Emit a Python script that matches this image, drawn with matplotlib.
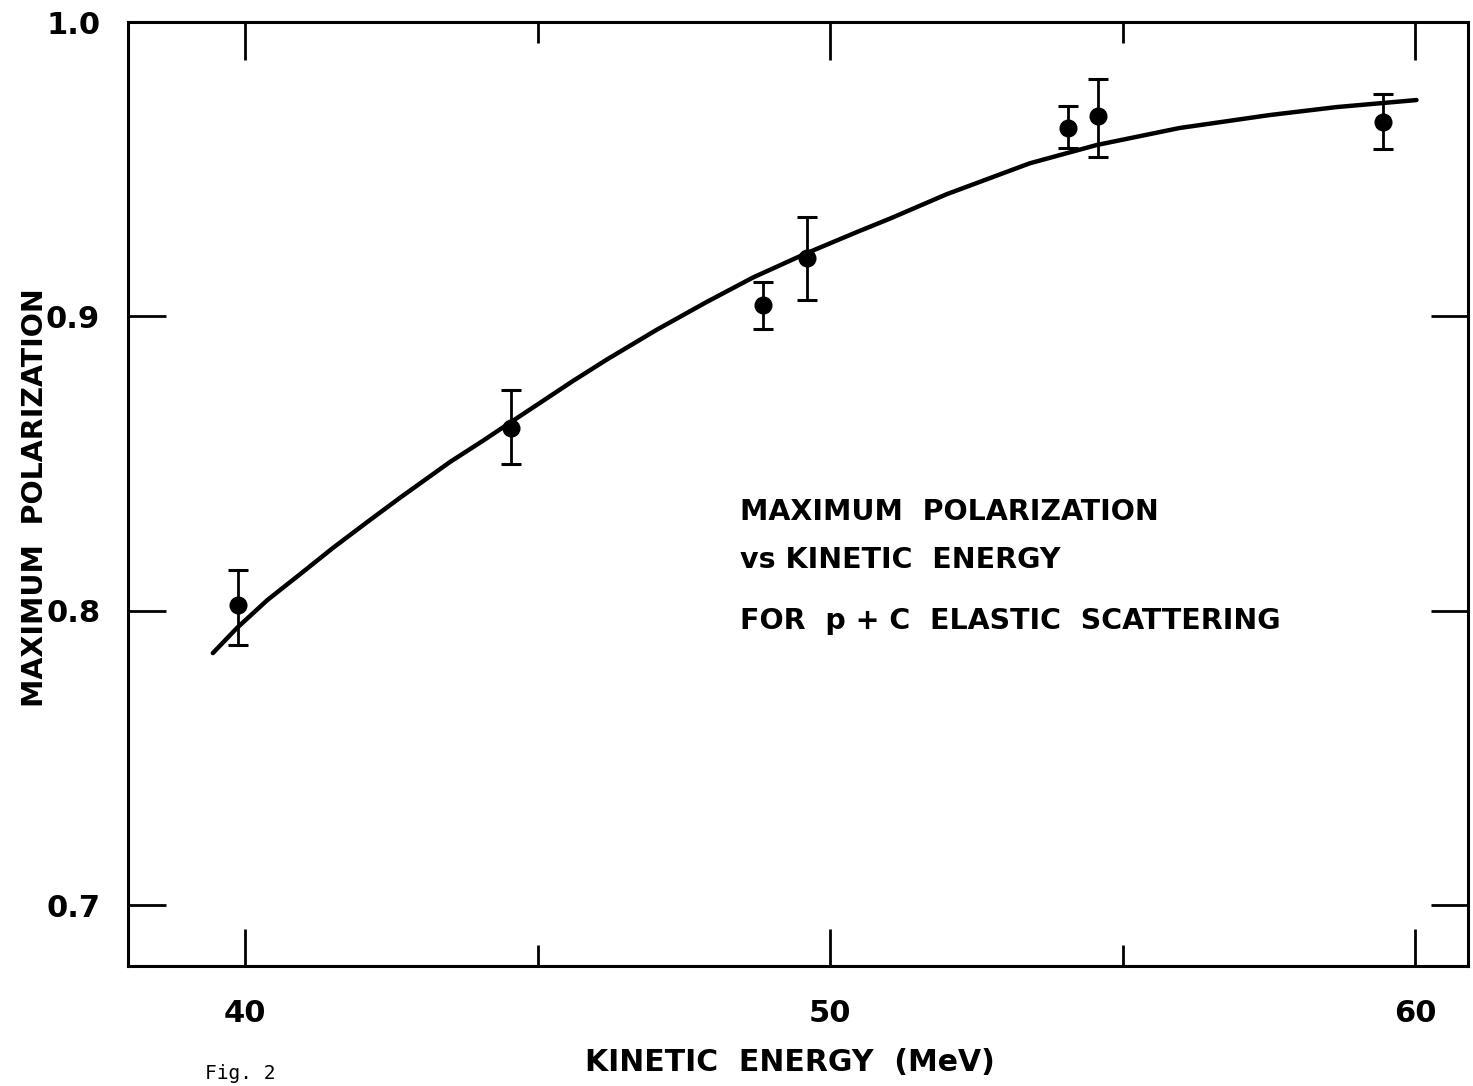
import matplotlib
matplotlib.use("Agg")
import matplotlib.pyplot as plt

# measured points (MeV, max polarization) with error bars
energy = [39.88, 44.54, 48.85, 49.60, 54.06, 54.57, 59.44]
pol = [0.802, 0.862, 0.904, 0.920, 0.964, 0.968, 0.966]
err_hi = [0.0119, 0.0129, 0.0078, 0.0139, 0.0075, 0.0126, 0.0095]
err_lo = [0.0136, 0.0122, 0.0082, 0.0146, 0.0068, 0.0139, 0.0092]

# smooth curve
curve_e = [39.45, 39.86, 40.38, 40.94, 41.50, 42.08, 42.65, 43.50, 44.07,
           44.53, 45.16, 45.60, 46.18, 47.04, 47.89, 48.68, 49.60, 50.45,
           51.02, 51.99, 53.41, 54.55, 55.97, 57.51, 58.65, 60.02]
curve_p = [0.7856, 0.7941, 0.8036, 0.8124, 0.8213, 0.8300, 0.8384, 0.8505,
           0.8578, 0.8639, 0.8722, 0.8780, 0.8853, 0.8955, 0.9049, 0.9132,
           0.9215, 0.9286, 0.9332, 0.9415, 0.9520, 0.9582, 0.9640, 0.9684,
           0.9711, 0.9735]

xticks = [40, 50, 60]
xminor = [45, 55]
yticks = [0.7, 0.8, 0.9, 1.0]

plt.rcParams['font.family'] = ['DejaVu Sans']
plt.rcParams['font.weight'] = 'bold'

fig = plt.figure(figsize=(14.73, 10.86), dpi=100)
ax = fig.add_axes([0.0869, 0.1105, 0.9097, 0.8692])

ax.plot(curve_e, curve_p, color='black', lw=3.2, solid_capstyle='round',
        solid_joinstyle='round')
ax.errorbar(energy, pol, yerr=[err_lo, err_hi], fmt='o', color='black',
            ms=12, elinewidth=2, capsize=7.5, capthick=2.2)

ax.set_xlim(38.0, 60.9)
ax.set_ylim(0.6793, 1.0)
ax.set_xticks(xticks)
ax.set_xticks(xminor, minor=True)
ax.set_yticks(yticks)
ax.set_yticklabels(['0.7', '0.8', '0.9', '1.0'])
ax.tick_params(which='major', direction='in', length=27, width=2,
               top=True, right=True, labelsize=22, pad=20)
ax.tick_params(which='minor', direction='in', length=15, width=2,
               top=True, bottom=True)
ax.tick_params(axis='x', which='major', pad=24)
for s in ax.spines.values():
    s.set_linewidth(2.2)

ax.text(0.4567, 0.481, 'MAXIMUM  POLARIZATION', transform=ax.transAxes,
        fontsize=20.5, va='center', ha='left')
ax.text(0.4567, 0.430, 'vs KINETIC  ENERGY', transform=ax.transAxes,
        fontsize=20.5, va='center', ha='left')
ax.text(0.4567, 0.3655, 'FOR  p + C  ELASTIC  SCATTERING', transform=ax.transAxes,
        fontsize=20.5, va='center', ha='left')

fig.text(0.024, 0.542, 'MAXIMUM  POLARIZATION', rotation=90, fontsize=20.5,
         va='center', ha='center')
fig.text(0.536, 0.022, 'KINETIC  ENERGY  (MeV)', fontsize=21.5,
         va='center', ha='center')
fig.text(0.163, 0.003, 'Fig. 2', fontsize=14, fontweight='normal',
         family='DejaVu Sans Mono', va='bottom', ha='center')

fig.savefig('out.png', dpi=100)
